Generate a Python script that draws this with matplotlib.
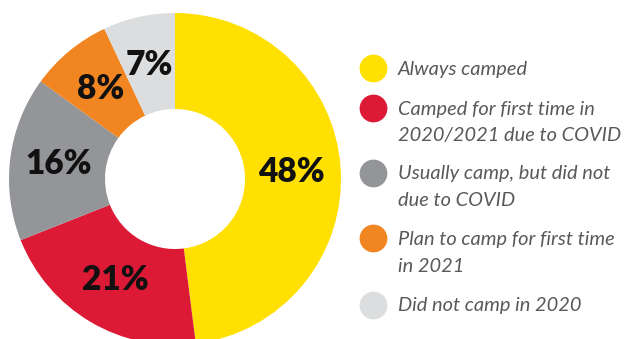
import matplotlib
matplotlib.use("Agg")
import matplotlib.pyplot as plt
import numpy as np

categories = ["Always camped",
              "Camped for first time in\n2020/2021 due to COVID",
              "Usually camp, but did not\ndue to COVID",
              "Plan to camp for first time\nin 2021",
              "Did not camp in 2020"]
values = [48, 21, 16, 8, 7]
colors = ["#FFE000", "#DC1A35", "#939598", "#F08522", "#DCDDDE"]

W, H = 633, 339
fig = plt.figure(figsize=(W / 100, H / 100), dpi=100)
ax = fig.add_axes([0, 0, 1, 1])

cx, cy, R, r = 175, 179, 166, 70
wedges, texts = ax.pie(values, colors=colors, startangle=90, counterclock=False,
                       center=(cx, -cy), radius=R,
                       wedgeprops=dict(width=R - r, linewidth=0))
for w, v in zip(wedges, values):
    ang = np.deg2rad((w.theta1 + w.theta2) / 2)
    rr = 117
    ax.text(cx + rr * np.cos(ang), -cy + rr * np.sin(ang), f"{v}%",
            ha="center", va="center", fontsize=24, fontweight="heavy",
            family="Lato", color="#111111")

# legend
ly = [68, 108, 173, 238, 305]
for y, c, lab in zip(ly, colors, categories):
    ax.scatter([373], [-y], s=400, color=c, linewidths=0)
    for i, line in enumerate(lab.split("\n")):
        ax.text(398, -(y + 1 + i * 27), line, ha="left", va="center",
                fontsize=14.4, style="italic", family="Lato", color="#58595B")

ax.set_xlim(0, W)
ax.set_ylim(-H, 0)
ax.set_aspect("equal")
ax.axis("off")
fig.savefig("out.png", dpi=100)
